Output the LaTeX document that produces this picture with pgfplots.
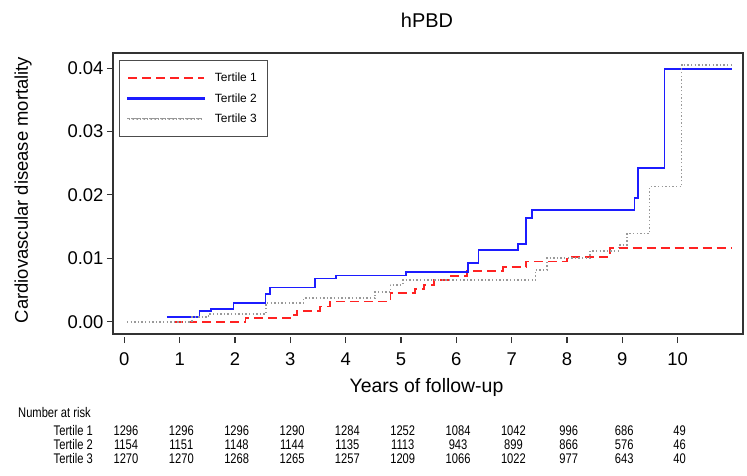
\documentclass[border=0pt]{standalone}
\usepackage{pgfplots}
\pgfplotsset{compat=1.18}
\usepackage{fontspec}
\setmainfont{Liberation Sans}
\newfontfamily\narrow[FakeStretch=0.8]{Liberation Sans}
\definecolor{tred}{HTML}{FF2222}
\definecolor{tblue}{HTML}{1C1CFF}
\definecolor{tgray}{HTML}{999999}
\begin{document}
\begin{tikzpicture}
\path[use as bounding box] (-113bp,-142bp) rectangle (634bp,334bp);
\begin{axis}[
  scale only axis, width=630bp, height=281bp,
  xmin=-0.204, xmax=11.18, ymin=-0.00194, ymax=0.04238,
  xtick={0,1,...,10}, ytick={0,0.01,0.02,0.03,0.04},
  yticklabel style={/pgf/number format/fixed, /pgf/number format/fixed zerofill, /pgf/number format/precision=2},
  scaled y ticks=false,
  /pgf/number format/assume math mode=true,
  tick pos=left,
  tick align=outside, major tick length=6bp,
  xtick style={yshift=-3bp},
  xticklabel style={yshift=-9bp},
  axis line style={line width=1.3bp, black!80},
  every tick/.style={line width=1.1bp, black!80},
  ticklabel style={font=\fontsize{18.5}{20}\selectfont},
  clip=false,
  legend style={at={(rel axis cs:0.0095,0.975)}, anchor=north west, draw=black!70,
    font=\fontsize{12}{14}\selectfont, row sep=6bp, inner xsep=8bp, inner ysep=11bp, cells={anchor=west}},
]
\addplot[const plot, draw=tred, line width=1.8bp, dash pattern=on 9bp off 5bp,
  legend image code/.code={\draw[draw=tred, line width=1.8bp, dash pattern=on 9bp off 5bp] (0bp,0bp) -- (76bp,0bp); \path (84bp,0bp);}] coordinates {
(0.9,0) (2.19,0.0006) (3.06,0.0011) (3.12,0.0017) (3.54,0.0024) (3.72,0.0032) (4.81,0.0045)
(5.26,0.0051) (5.41,0.0058) (5.59,0.0066) (5.86,0.0072) (6.19,0.0080) (6.85,0.0086)
(7.26,0.0095) (8.0,0.0102) (8.78,0.0116) (10.98,0.0116)};
\addlegendentry{Tertile 1}
\addplot[const plot, draw=tblue, line width=1.8bp,
  legend image code/.code={\fill[tblue] (0bp,-0.9bp) rectangle (76bp,0.9bp); \path (84bp,0bp);}] coordinates {
(0.77,0.0008) (1.36,0.0017) (1.57,0.00205) (1.975,0.0030) (2.55,0.0044) (2.63,0.0054)
(3.44,0.0068) (3.83,0.0073) (5.09,0.0078) (6.21,0.0092) (6.40,0.0113) (7.11,0.0122)
(7.26,0.0163) (7.37,0.0176) (9.22,0.0195) (9.28,0.0242) (9.76,0.0398) (10.98,0.0398)};
\addlegendentry{Tertile 2}
\addplot[const plot, draw=tgray, line width=1.7bp, dash pattern=on 1.4bp off 2.2bp,
  legend image code/.code={\foreach \d in {0,3.6,...,74}{\fill[tgray] (\d bp,-0.85bp) rectangle ({\d bp+1.5bp},0.85bp);} \path (84bp,0bp);}] coordinates {
(0.05,0) (1.22,0.0007) (1.52,0.0012) (2.56,0.0029) (3.24,0.0037) (4.53,0.0047) (4.81,0.0058)
(5.03,0.0066) (7.43,0.0082) (7.64,0.0100) (8.42,0.0112) (8.93,0.0121) (9.08,0.0139)
(9.49,0.0213) (10.07,0.0405) (10.98,0.0405)};
\addlegendentry{Tertile 3}
\end{axis}
\node[font=\fontsize{20}{22}\selectfont] at (314bp,314bp) {hPBD};
\node[rotate=90, font=\fontsize{18.5}{20}\selectfont] at (-90bp,144bp) {Cardiovascular disease mortality};
\node[anchor=base, font=\fontsize{19.5}{21}\selectfont] at (313.5bp,-58bp) {Years of follow-up};
\node[anchor=base west, font=\narrow\fontsize{14}{15}\selectfont, inner sep=0pt] at (-95bp,-83bp) {Number at risk};
\foreach \lab/\yy/\vals in {Tertile 1/-101/{1296,1296,1296,1290,1284,1252,1084,1042,996,686,49},
                            Tertile 2/-115/{1154,1151,1148,1144,1135,1113,943,899,866,576,46},
                            Tertile 3/-129/{1270,1270,1268,1265,1257,1209,1066,1022,977,643,40}} {
  \node[anchor=base east, font=\narrow\fontsize{14}{15}\selectfont, inner sep=0pt] at (-20bp,\yy bp) {\lab};
  \foreach \v [count=\k from 0] in \vals {
    \node[anchor=base, font=\narrow\fontsize{14}{15}\selectfont, inner sep=0pt] at ({13bp+55.35bp*\k},\yy bp) {\v};
  }
}
\end{tikzpicture}
\end{document}
